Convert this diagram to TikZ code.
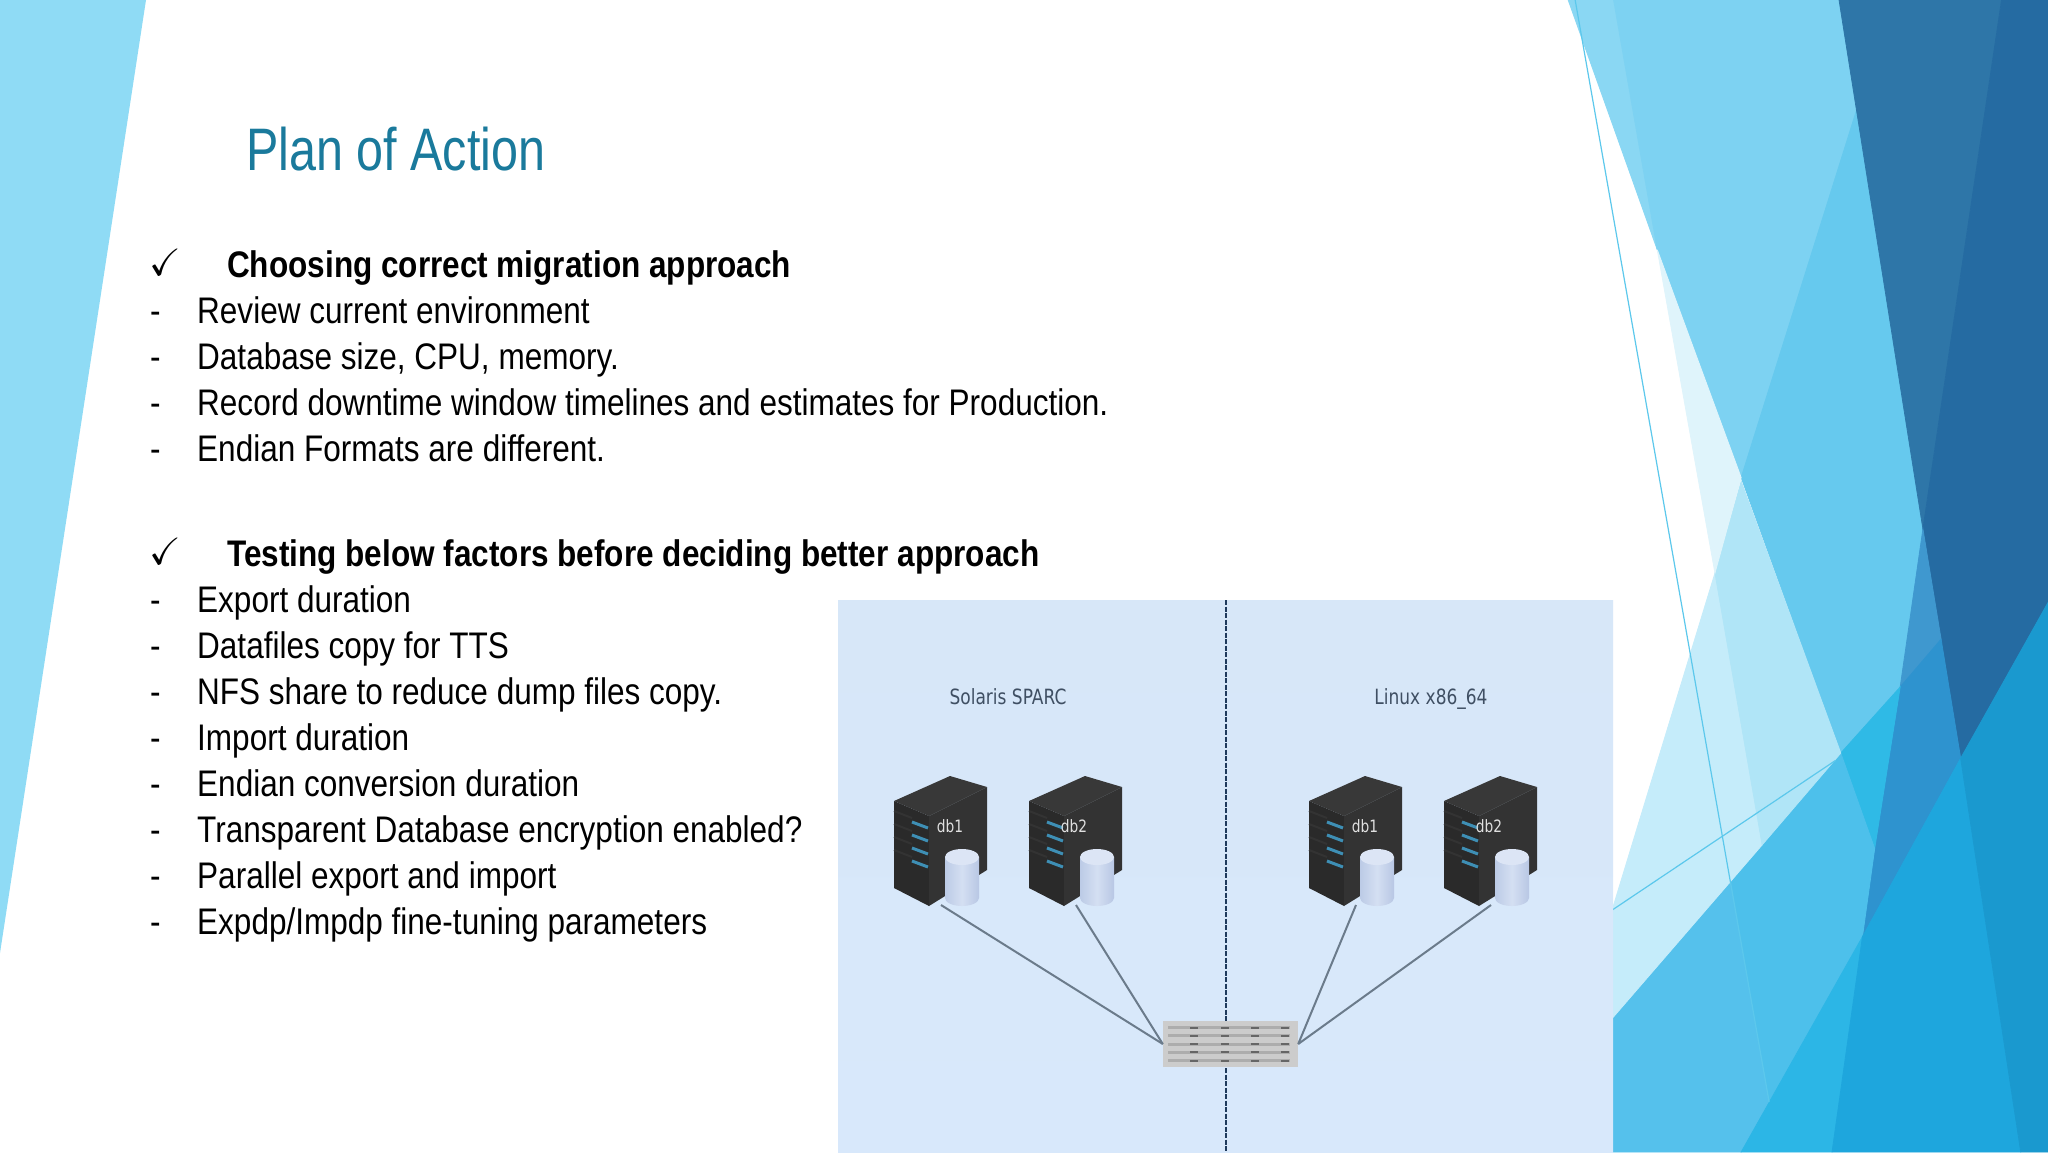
\documentclass[tikz,border=0pt]{standalone}
\usepackage{amssymb}
\usepackage{fontspec}
\usetikzlibrary{positioning}
\newfontfamily\slidefont[FakeStretch=.852]{Liberation Sans}
\newfontfamily\titlefont[FakeStretch=.808]{Liberation Sans}
\newfontfamily\panelfont[FakeStretch=.81]{DejaVu Sans}
\definecolor{titleblue}{HTML}{1A7A9C}
\definecolor{panelA}{HTML}{D7E7F8}
\definecolor{panelB}{HTML}{D8E8FB}
\definecolor{linkgray}{HTML}{6B7B8B}
\definecolor{divider}{HTML}{1F3A5C}
\definecolor{oscolor}{HTML}{3F4F63}
\definecolor{caseA}{HTML}{2A2A2A}
\definecolor{caseB}{HTML}{333333}
\definecolor{caseC}{HTML}{383838}
\definecolor{ledblue}{HTML}{3E8FB5}
\definecolor{wedge}{HTML}{8FDBF5}
\definecolor{hairline}{HTML}{5CC8EC}
\definecolor{fa}{HTML}{8AD7F3}
\definecolor{fb}{HTML}{7DD2F2}
\definecolor{fc}{HTML}{66C9EE}
\definecolor{fd}{HTML}{2E76A8}
\definecolor{fe}{HTML}{256BA2}
\definecolor{ff}{HTML}{3F98CF}
\definecolor{fg}{HTML}{2E93CF}
\definecolor{fh}{HTML}{2FBAE6}
\definecolor{fi}{HTML}{4DC0EB}
\definecolor{fj}{HTML}{55C1EC}
\definecolor{fk}{HTML}{2CB6E6}
\definecolor{fl}{HTML}{1EA6DD}
\definecolor{fm}{HTML}{1A99CF}
\definecolor{fn}{HTML}{C5ECFA}
\definecolor{fo}{HTML}{B0E5F7}
\definecolor{fp}{HTML}{DFF4FB}
\definecolor{cylA}{HTML}{BCCBE6}
\definecolor{cylB}{HTML}{D4DFF2}
\definecolor{cylC}{HTML}{B8C7E4}
\definecolor{cylT}{HTML}{DCE5F5}
\tikzset{
    bodyline/.style={anchor=base west, inner sep=0pt, font=\slidefont\fontsize{37}{37}\selectfont},
    headline/.style={bodyline, font=\slidefont\bfseries\fontsize{37}{37}\selectfont},
    tick/.style={anchor=center, inner sep=0pt, font=\fontsize{38}{38}\selectfont},
    oslabel/.style={anchor=base, inner sep=0pt, text=oscolor, font=\panelfont\fontsize{21}{21}\selectfont},
    link/.style={draw=linkgray, line width=2pt},
    pics/dbserver/.style 2 args={code={
        \fill[caseC] (0,25) -- (56,0) -- (93,11) -- (35,40) -- cycle;
        \fill[caseA] (0,25) -- (35,40) -- (35,130) -- (0,112) -- cycle;
        \fill[caseB] (35,40) -- (93,11) -- (93,94) -- (35,130) -- cycle;
        \foreach \r in {0,1,2,3} {
            \draw[line width=2pt, black!80] (0,35+13*\r) -- (18,42+13*\r);
            \draw[line width=3pt, ledblue] (18,46+13*\r) -- (34,52+13*\r);
        }
        \node[inner sep=0pt, text=white!88!black, font=\panelfont\fontsize{17}{17}\selectfont] (-name) at (#2,50) {#1};
        \path[left color=cylA, right color=cylC, middle color=cylB]
            (51,81) -- (51,122) arc[start angle=180, end angle=0, x radius=17, y radius=8] -- (85,81) -- cycle;
        \fill[cylT] (68,81) ellipse[x radius=17, y radius=8];
        \coordinate (-port) at (47,129);
    }}
}
\begin{document}
\begin{tikzpicture}[x=1pt, y=-1pt]
    \useasboundingbox (0,0) rectangle (2048,1152);
    \fill[white] (0,0) rectangle (2048,1152);
    % left wedge
    \fill[wedge] (0,0) -- (146,0) -- (0,953) -- cycle;
    % facets on the right
    \begin{scope}[shift={(1500,0)}, xscale=.3495, yscale=.7347, line width=.8pt]
        \filldraw[fa] (195,0) -- (325,0) -- (450,340) -- cycle;
        \filldraw[fb] (325,0) -- (970,0) -- (1020,150) -- (690,650) -- (450,340) -- cycle;
        \filldraw[fc] (1020,150) -- (1210,720) -- (1145,935) -- (975,1025) -- (690,650) -- cycle;
        \filldraw[fd] (970,0) -- (1435,0) -- (1210,720) -- cycle;
        \filldraw[fe] (1435,0) -- (1568,0) -- (1568,820) -- (1318,1032) -- (1210,720) -- cycle;
        \filldraw[ff] (1210,720) -- (1262,870) -- (1145,935) -- cycle;
        \filldraw[fg] (1145,935) -- (1262,870) -- (1318,1032) -- (1037,1275) -- (1072,1155) -- cycle;
        \filldraw[fh] (975,1025) -- (1145,935) -- (1072,1155) -- cycle;
        \filldraw[fi] (660,1200) -- (975,1025) -- (1072,1155) -- (1037,1275) -- (770,1500) -- cycle;
        \filldraw[fj] (323,1385) -- (660,1200) -- (770,1500) -- (690,1568) -- (323,1568) -- cycle;
        \filldraw[fk] (690,1568) -- (1037,1275) -- (950,1568) -- cycle;
        \filldraw[fl] (1037,1275) -- (1318,1032) -- (1490,1568) -- (950,1568) -- cycle;
        \filldraw[fm] (1318,1032) -- (1568,820) -- (1568,1568) -- (1490,1568) -- cycle;
        \filldraw[fn] (323,1235) -- (615,780) -- (750,1150) -- (323,1385) -- cycle;
        \filldraw[fo] (615,780) -- (690,655) -- (975,1025) -- (750,1150) -- cycle;
        \filldraw[fp] (450,340) -- (690,650) -- (615,780) -- cycle;
        \draw[hairline, line width=1.2pt] (215,0) -- (770,1500);
        \draw[hairline, line width=1.2pt] (323,1238) -- (960,1035);
    \end{scope}
    % picture panel
    \path[top color=panelA, bottom color=panelB] (838,600) rectangle (1613,1152);
    \coordinate (divtop) at (1226,600);
    \coordinate (divbot) at (1226,1152);
    \draw[divider, line width=1.5pt, dash pattern=on 5pt off 1.5pt] (divtop) -- (divbot);
    % title and text
    \node[anchor=base west, inner sep=0pt, text=titleblue, font=\titlefont\fontsize{60}{60}\selectfont] (title) at (246,170) {Plan of Action};
    \node[tick] (tickA) at (165,262) {$\checkmark$};
    \node[headline] (headA) at (227,277) {Choosing correct migration approach};
    \foreach \txt [count=\i] in {Review current environment, {Database size, CPU, memory.}, Record downtime window timelines and estimates for Production., Endian Formats are different.} {
        \node[bodyline] (dashA\i) at (150,277+46*\i) {-};
        \node[bodyline] (lineA\i) at (197,277+46*\i) {\txt};
    }
    \node[tick] (tickB) at (165,551) {$\checkmark$};
    \node[headline] (headB) at (227,566) {Testing below factors before deciding better approach};
    \foreach \txt [count=\i] in {Export duration, Datafiles copy for TTS, NFS share to reduce dump files copy., Import duration, Endian conversion duration, Transparent Database encryption enabled?, Parallel export and import, Expdp/Impdp fine-tuning parameters} {
        \node[bodyline] (dashB\i) at (150,566+46.1*\i) {-};
        \node[bodyline] (lineB\i) at (197,566+46.1*\i) {\txt};
    }
    % storage box
    \node[fill=black!20, minimum width=135pt, minimum height=46pt, inner sep=0pt] (storage) at (1230.5,1044) {};
    \foreach \r in {0,...,4} {
        \fill[black!32] (1168,1026+8.3*\r) rectangle (1290,1029+8.3*\r);
        \foreach \m in {1194,1225,1255,1285} {
            \fill[black!60] (\m-4,1026.5+8.3*\r) rectangle (\m+4,1028.5+8.3*\r);
        }
    }
    % servers
    \node[oslabel] (solaris) at (1008,704) {Solaris SPARC};
    \node[oslabel] (linux) at (1431,704) {Linux x86\_64};
    \pic (solA) at (894,776) {dbserver={db1}{56}};
    \pic (solB) at (1029,776) {dbserver={db2}{45}};
    \pic (linA) at (1309,776) {dbserver={db1}{56}};
    \pic (linB) at (1444,776) {dbserver={db2}{45}};
    \draw[link] (solA-port) -- (storage.west);
    \draw[link] (solB-port) -- (storage.west);
    \draw[link] (linA-port) -- (storage.east);
    \draw[link] (linB-port) -- (storage.east);
\end{tikzpicture}
\end{document}
